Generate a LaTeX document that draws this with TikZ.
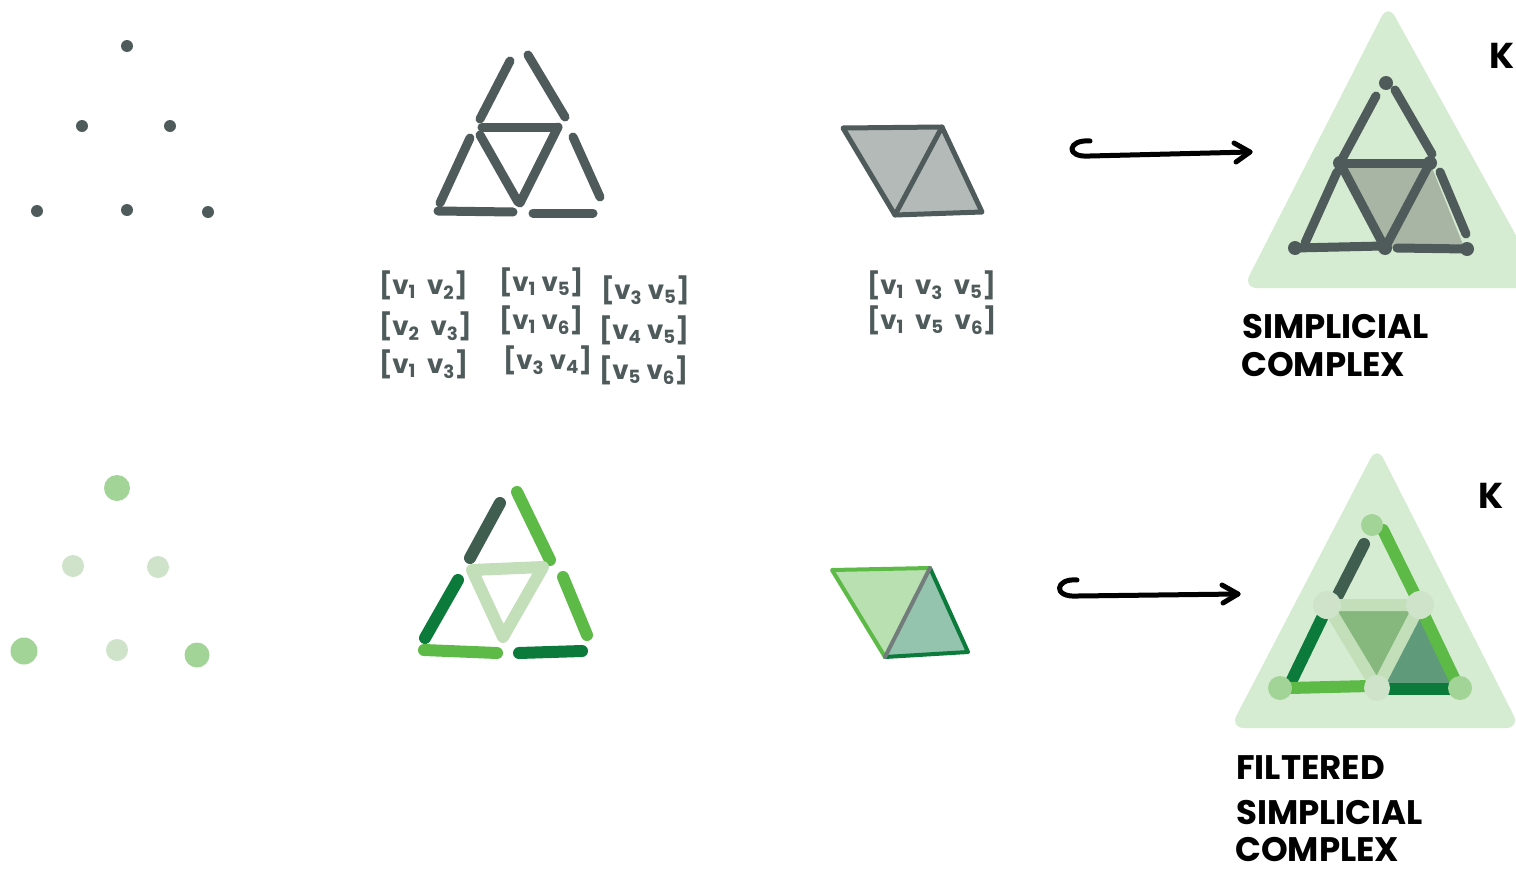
\documentclass[tikz,border=0pt]{standalone}
\usepackage{fontspec}
\setmainfont{Poppins}
\definecolor{slate}{HTML}{4F5B5A}
\definecolor{greyfill}{HTML}{B4BAB8}
\definecolor{bgG}{HTML}{D5ECD2}
\definecolor{cxfill}{HTML}{A8B5A5}
\definecolor{gDark}{HTML}{0B7A3A}
\definecolor{gMid}{HTML}{5DBA47}
\definecolor{gPale}{HTML}{C2DFBA}
\definecolor{gDot}{HTML}{A3D497}
\definecolor{gDotPale}{HTML}{CFE3CB}
\definecolor{gSlate}{HTML}{3F5E4F}
\definecolor{gFillA}{HTML}{B9E0B0}
\definecolor{gFillB}{HTML}{94C4AE}
\definecolor{gInner}{HTML}{86B87D}
\definecolor{gInner2}{HTML}{5F9B7A}
\newcommand\vv[1]{v\textsubscript{#1}}
\tikzset{
  edge/.style={line width=9pt, line cap=round, slate},
  gedge/.style={line width=12pt, line cap=round},
  sdot/.style={circle, fill=slate, inner sep=0pt, minimum size=12pt},
  gdot/.style={circle, inner sep=0pt},
  lbl/.style={text=slate, font=\fontsize{26}{28}\selectfont\bfseries, inner sep=0pt},
  title/.style={anchor=base west, inner sep=0pt, font=\fontsize{34}{38}\selectfont\bfseries},
  hook/.style={line width=5pt, line cap=round, line join=round, black},
  bigtri/.style={fill=bgG, rounded corners=14pt},
}
\begin{document}
\begin{tikzpicture}[x=1pt, y=-1pt]
\useasboundingbox (0,0) rectangle (1516,870);
\fill[white] (0,0) rectangle (1516,870);

% ---------- top row: points ----------
\node[sdot] (p1) at (127,46) {};
\node[sdot] (p2) at (82,126) {};
\node[sdot] (p3) at (170,126) {};
\node[sdot] (p4) at (37,211) {};
\node[sdot] (p5) at (127,210) {};
\node[sdot] (p6) at (208,212) {};

% ---------- top row: edges ----------
\draw[edge] (510,61) -- (480,119);
\draw[edge] (528,55) -- (565,117);
\draw[edge] (482,127) -- (558,127);
\draw[edge] (558,127) -- (520,203);
\draw[edge] (480,135) -- (518,202);
\draw[edge] (470,138) -- (440,203);
\draw[edge] (438,211) -- (513,212);
\draw[edge] (573,137) -- (600,197);
\draw[edge] (533,213) -- (593,213);

\node[lbl, anchor=west] (e12) at (379,285) {[\vv1\ \ \vv2]};
\node[lbl, anchor=west] (e23) at (379,326) {[\vv2\ \ \vv3]};
\node[lbl, anchor=west] (e13) at (379,364) {[\vv1\ \ \vv3]};
\node[lbl, anchor=west] (e15) at (499,282) {[\vv1\ \vv5]};
\node[lbl, anchor=west] (e16) at (499,320) {[\vv1\ \vv6]};
\node[lbl, anchor=west] (e34) at (503,360) {[\vv3\ \vv4]};
\node[lbl, anchor=west] (e35) at (601,290) {[\vv3\ \vv5]};
\node[lbl, anchor=west] (e45) at (599,330) {[\vv4\ \vv5]};
\node[lbl, anchor=west] (e56) at (599,370) {[\vv5\ \vv6]};

% ---------- top row: 2-simplices ----------
\coordinate (t1) at (843,128);
\coordinate (t2) at (942,127);
\coordinate (t3) at (982,212);
\coordinate (t4) at (895,215);
\fill[greyfill] (t1) -- (t2) -- (t3) -- (t4) -- cycle;
\draw[slate, line width=5pt, line join=round, line cap=round] (t1) -- (t2) -- (t3) -- (t4) -- cycle;
\draw[slate, line width=5pt, line cap=round] (t2) -- (t4);
\node[lbl, anchor=west] (f135) at (867,285) {[\vv1\ \ \vv3\ \ \vv5]};
\node[lbl, anchor=west] (f156) at (867,320) {[\vv1\ \ \vv5\ \ \vv6]};

% ---------- top arrow ----------
\coordinate (ha) at (1090,141);
\coordinate (hb) at (1250,152);
\draw[hook] (ha) .. controls (1068,139) and (1064,158) .. (1090,156) -- (hb);
\draw[hook] (1234,143) -- (hb) -- (1236,162);

% ---------- top complex ----------
\fill[bigtri] (1388,4) -- (1243,288) -- (1545,288) -- cycle;
\coordinate (a1) at (1386,83);
\coordinate (a2) at (1340,163);
\coordinate (a3) at (1430,163);
\coordinate (a4) at (1295,248);
\coordinate (a5) at (1385,248);
\coordinate (a6) at (1467,249);
\fill[cxfill] (a2) -- (a3) -- (a5) -- cycle;
\fill[cxfill] (a3) -- (1464,247) -- (a5) -- cycle;
\draw[edge] (1376,96) -- (a2);
\draw[edge] (1395,90) -- (1432,154);
\draw[edge] (a2) -- (a3);
\draw[edge] (a3) -- (a5);
\draw[edge] (a2) -- (a5);
\draw[edge] (1337,172) -- (1305,243);
\draw[edge] (a4) -- (1383,246);
\draw[edge] (1440,172) -- (1466,234);
\draw[edge] (1397,248) -- (a6);
\foreach \v in {a1,a2,a3,a4,a5,a6} \fill[slate] (\v) circle (7pt);
\node[anchor=base west, inner sep=0pt, font=\fontsize{36}{38}\selectfont\bfseries] (K1) at (1489,68) {K};
\node[title] (s1) at (1242,338) {SIMPLICIAL};
\node[title] (c1) at (1241,376) {COMPLEX};

% ---------- bottom row: points ----------
\node[gdot, fill=gDot, minimum size=26pt] (q1) at (117,488) {};
\node[gdot, fill=gDotPale, minimum size=22pt] (q2) at (73,566) {};
\node[gdot, fill=gDotPale, minimum size=22pt] (q3) at (158,567) {};
\node[gdot, fill=gDot, minimum size=27pt] (q4) at (24,651) {};
\node[gdot, fill=gDotPale, minimum size=22pt] (q5) at (117,650) {};
\node[gdot, fill=gDot, minimum size=25pt] (q6) at (197,655) {};

% ---------- bottom row: edges ----------
\draw[gedge, gSlate] (500,503) -- (470,558);
\draw[gedge, gMid] (517,492) -- (550,560);
\draw[gedge, gPale, line join=round] (472,570) -- (543,567) -- (503,637) -- cycle;
\draw[gedge, gDark] (458,580) -- (425,638);
\draw[gedge, gMid] (424,650) -- (497,653);
\draw[gedge, gMid] (563,577) -- (587,635);
\draw[gedge, gDark] (519,653) -- (582,651);

% ---------- bottom row: 2-simplices ----------
\coordinate (u1) at (832,570);
\coordinate (u2) at (930,568);
\coordinate (u3) at (968,652);
\coordinate (u4) at (885,657);
\fill[gFillA] (u1) -- (u2) -- (u4) -- cycle;
\fill[gFillB] (u2) -- (u3) -- (u4) -- cycle;
\draw[gMid, line width=4pt, line cap=round, line join=round] (u4) -- (u1) -- (u2);
\draw[gDark, line width=4pt, line cap=round, line join=round] (u2) -- (u3) -- (u4);
\draw[slate!80, line width=4pt, line cap=round] (u2) -- (u4);

% ---------- bottom arrow ----------
\coordinate (hc) at (1077,580);
\coordinate (hd) at (1238,594);
\draw[hook] (hc) .. controls (1055,578) and (1052,598) .. (1078,596) -- (hd);
\draw[hook] (1222,585) -- (hd) -- (1223,603);

% ---------- bottom complex ----------
\fill[bigtri] (1377,446) -- (1230,728) -- (1520,728) -- cycle;
\coordinate (b1) at (1372,525);
\coordinate (b2) at (1327,605);
\coordinate (b3) at (1420,605);
\coordinate (b4) at (1280,688);
\coordinate (b5) at (1377,688);
\coordinate (b6) at (1460,688);
\fill[gInner] (b2) -- (b3) -- (b5) -- cycle;
\fill[gInner2] (b3) -- (b6) -- (b5) -- cycle;
\draw[gedge, gSlate] (1364,544) -- (1338,595);
\draw[gedge, gMid] (1383,530) -- (1416,597);
\draw[gedge, gMid] (1424,615) -- (1455,680);
\draw[gedge, gDark] (1322,618) -- (1292,680);
\draw[gedge, gMid] (1290,688) -- (1370,686);
\draw[gedge, gDark] (1390,689) -- (1454,689);
\draw[gedge, gPale, line join=round] (b2) -- (b3) -- (b5) -- cycle;
\node[gdot, fill=gDot, minimum size=22pt] at (b1) {};
\node[gdot, fill=gDotPale, minimum size=28pt] at (b2) {};
\node[gdot, fill=gDotPale, minimum size=28pt] at (b3) {};
\node[gdot, fill=gDot, minimum size=24pt] at (b4) {};
\node[gdot, fill=gDotPale, minimum size=26pt] at (b5) {};
\node[gdot, fill=gDot, minimum size=24pt] at (b6) {};
\node[anchor=base west, inner sep=0pt, font=\fontsize{36}{38}\selectfont\bfseries] (K2) at (1478,508) {K};
\node[title] (f2) at (1236,779) {FILTERED};
\node[title] (s2) at (1236,824) {SIMPLICIAL};
\node[title] (c2) at (1235,861) {COMPLEX};
\end{tikzpicture}
\end{document}
